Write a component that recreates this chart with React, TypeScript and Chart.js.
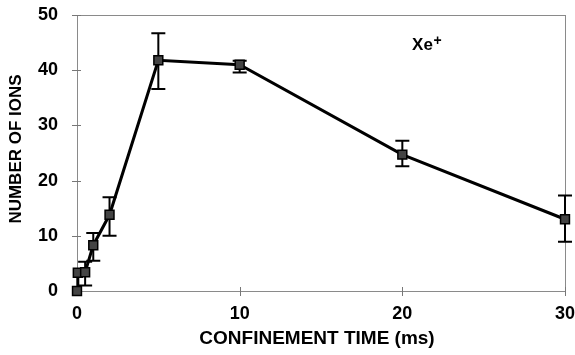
import { useEffect, useRef } from "react";
import { Chart, registerables } from "chart.js";

Chart.register(...registerables);

// Confinement time (ms) and measured ion counts with their error limits
const confinementTimes = [0, 0.05, 0.5, 1, 2, 5, 10, 20, 30];
const ionCounts = [0, 3.3, 3.4, 8.3, 13.8, 41.8, 41.0, 24.7, 13.0];
const errorLow: (number | null)[] = [null, null, 1.0, 5.5, 10.0, 36.6, 39.6, 22.6, 8.9];
const errorHigh: (number | null)[] = [null, null, 5.3, 10.5, 17.0, 46.7, 41.7, 27.2, 17.3];

const xTickValues = [0, 10, 20, 30];
const yTickValues = [0, 10, 20, 30, 40, 50];

const xTitle = "CONFINEMENT TIME (ms)";
const yTitle = "NUMBER OF IONS";
const speciesLabel = "Xe";
const speciesCharge = "+";
const speciesLabelAt = { x: 20.6, y: 43.7 };

const FONT = "'Liberation Sans', Arial, Helvetica, sans-serif";

const decorations = {
  id: "decorations",
  beforeDatasetsDraw(chart: any) {
    const { ctx, chartArea, scales } = chart;
    const xs = scales.x;
    const ys = scales.y;
    ctx.save();
    // frame around plot area
    ctx.strokeStyle = "#8a8a8a";
    ctx.lineWidth = 1;
    ctx.strokeRect(
      Math.round(chartArea.left) + 0.5,
      Math.round(chartArea.top) + 0.5,
      Math.round(chartArea.right - chartArea.left),
      Math.round(chartArea.bottom - chartArea.top)
    );
    // tick marks crossing the axes
    ctx.strokeStyle = "#777";
    ctx.beginPath();
    yTickValues.forEach((v) => {
      const py = Math.round(ys.getPixelForValue(v)) + 0.5;
      ctx.moveTo(chartArea.left - 5, py);
      ctx.lineTo(chartArea.left + 4, py);
    });
    xTickValues.forEach((v) => {
      const px = Math.round(xs.getPixelForValue(v)) + 0.5;
      ctx.moveTo(px, chartArea.bottom - 4);
      ctx.lineTo(px, chartArea.bottom + 5);
    });
    ctx.stroke();

    // error bars
    ctx.strokeStyle = "#000";
    ctx.lineWidth = 2;
    confinementTimes.forEach((t, i) => {
      const lo = errorLow[i];
      const hi = errorHigh[i];
      if (lo == null || hi == null) return;
      const px = xs.getPixelForValue(t);
      const pLo = ys.getPixelForValue(lo);
      const pHi = ys.getPixelForValue(hi);
      ctx.beginPath();
      ctx.moveTo(px, pLo);
      ctx.lineTo(px, pHi);
      ctx.moveTo(px - 7, pLo);
      ctx.lineTo(px + 7, pLo);
      ctx.moveTo(px - 7, pHi);
      ctx.lineTo(px + 7, pHi);
      ctx.stroke();
    });
    ctx.restore();
  },
  afterDraw(chart: any) {
    const { ctx, scales } = chart;
    ctx.save();
    ctx.fillStyle = "#000";
    // axis titles
    ctx.font = `bold 19px ${FONT}`;
    ctx.textAlign = "center";
    ctx.textBaseline = "middle";
    ctx.fillText(xTitle, 317, 339);
    ctx.translate(16, 149);
    ctx.rotate(-Math.PI / 2);
    ctx.font = `bold 17px ${FONT}`;
    ctx.fillText(yTitle, 0, 0);
    ctx.restore();

    // species label
    ctx.save();
    const lx = scales.x.getPixelForValue(speciesLabelAt.x);
    const ly = scales.y.getPixelForValue(speciesLabelAt.y);
    ctx.fillStyle = "#000";
    ctx.textAlign = "left";
    ctx.textBaseline = "alphabetic";
    ctx.font = `bold 17px ${FONT}`;
    ctx.fillText(speciesLabel, lx, ly);
    const w = ctx.measureText(speciesLabel).width;
    ctx.font = `bold 14px ${FONT}`;
    ctx.fillText(speciesCharge, lx + w + 0.5, ly - 5);
    ctx.restore();
  },
};

export default function App() {
  const canvasRef = useRef<HTMLCanvasElement | null>(null);

  useEffect(() => {
    const canvas = canvasRef.current;
    if (!canvas) return;
    const chart = new Chart(canvas, {
      type: "line",
      data: {
        datasets: [
          {
            data: confinementTimes.map((t, i) => ({ x: t, y: ionCounts[i] })),
            borderColor: "#000",
            borderWidth: 3,
            tension: 0,
            pointStyle: "rect",
            pointRadius: 6.3,
            pointBackgroundColor: "#444",
            pointBorderColor: "#000",
            pointBorderWidth: 1.5,
            clip: false,
          },
        ],
      },
      options: {
        animation: false,
        responsive: false,
        maintainAspectRatio: false,
        layout: { padding: { top: 15, right: 10, left: 0, bottom: 0 } },
        plugins: {
          legend: { display: false },
          tooltip: { enabled: false },
        },
        scales: {
          x: {
            type: "linear",
            min: 0,
            max: 30,
            afterBuildTicks: (s: any) => {
              s.ticks = xTickValues.map((v) => ({ value: v }));
            },
            afterFit: (s: any) => {
              s.height = 64;
              s.paddingLeft = 0;
              s.paddingRight = 0;
            },
            ticks: {
              color: "#000",
              font: { family: FONT, size: 18, weight: "bold" },
              padding: 12,
              maxRotation: 0,
            },
            grid: { display: false, drawTicks: false },
            border: { display: false },
          },
          y: {
            type: "linear",
            min: 0,
            max: 50,
            afterBuildTicks: (s: any) => {
              s.ticks = yTickValues.map((v) => ({ value: v }));
            },
            afterFit: (s: any) => {
              s.width = 77;
              s.paddingTop = 0;
              s.paddingBottom = 0;
            },
            ticks: {
              color: "#000",
              font: { family: FONT, size: 18, weight: "bold" },
              padding: 19,
            },
            grid: { display: false, drawTicks: false },
            border: { display: false },
          },
        },
      },
      plugins: [decorations],
    } as any);
    return () => chart.destroy();
  }, []);

  return (
    <div style={{ position: "fixed", left: 0, top: 0, width: 575, height: 355, background: "#fff" }}>
      <canvas ref={canvasRef} width={575} height={355} style={{ display: "block" }} />
    </div>
  );
}
